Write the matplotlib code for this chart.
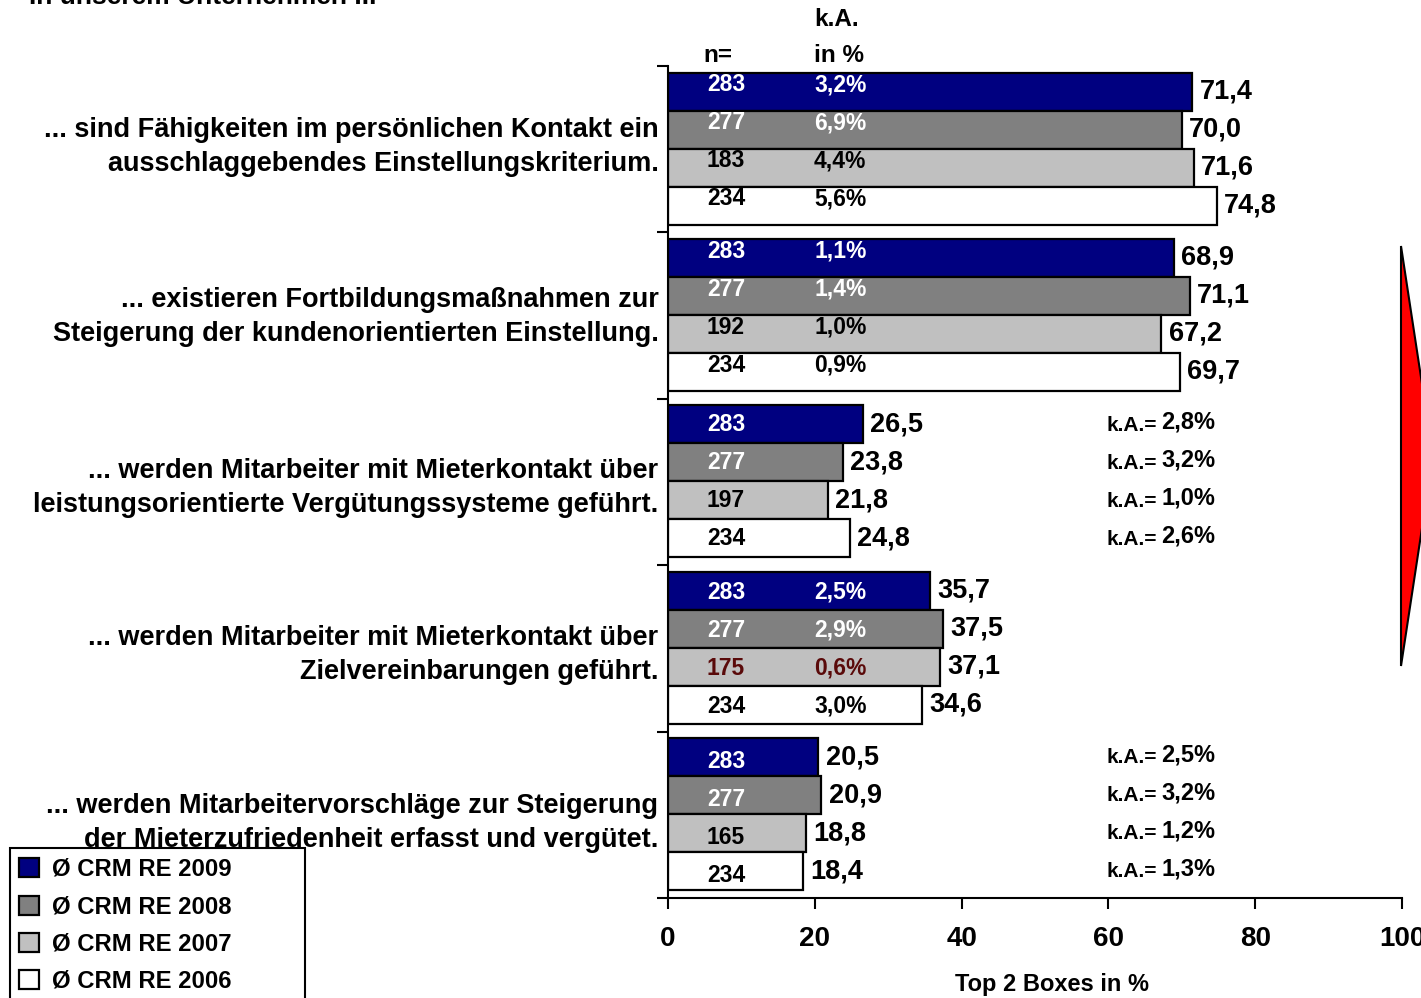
import matplotlib
matplotlib.use("Agg")
import matplotlib.pyplot as plt
from matplotlib.patches import Polygon, Rectangle

plt.rcParams['font.family'] = ['Liberation Sans', 'DejaVu Sans']
plt.rcParams['font.weight'] = 'bold'

# data
statements = [
    "... sind Fähigkeiten im persönlichen Kontakt ein\nausschlaggebendes Einstellungskriterium.",
    "... existieren Fortbildungsmaßnahmen zur\nSteigerung der kundenorientierten Einstellung.",
    "... werden Mitarbeiter mit Mieterkontakt über\nleistungsorientierte Vergütungssysteme geführt.",
    "... werden Mitarbeiter mit Mieterkontakt über\nZielvereinbarungen geführt.",
    "... werden Mitarbeitervorschläge zur Steigerung\nder Mieterzufriedenheit erfasst und vergütet.",
]
series = ["Ø CRM RE 2009", "Ø CRM RE 2008", "Ø CRM RE 2007", "Ø CRM RE 2006"]
v2009 = [71.4, 68.9, 26.5, 35.7, 20.5]
v2008 = [70.0, 71.1, 23.8, 37.5, 20.9]
v2007 = [71.6, 67.2, 21.8, 37.1, 18.8]
v2006 = [74.8, 69.7, 24.8, 34.6, 18.4]
n2009 = [283, 283, 283, 283, 283]
n2008 = [277, 277, 277, 277, 277]
n2007 = [183, 192, 197, 175, 165]
n2006 = [234, 234, 234, 234, 234]
ka2009 = [3.2, 1.1, 2.8, 2.5, 2.5]
ka2008 = [6.9, 1.4, 3.2, 2.9, 3.2]
ka2007 = [4.4, 1.0, 1.0, 0.6, 1.2]
ka2006 = [5.6, 0.9, 2.6, 3.0, 1.3]
ka_inside = [True, True, False, True, False]
xticks = [0, 20, 40, 60, 80, 100]

values = [v2009, v2008, v2007, v2006]
ns = [n2009, n2008, n2007, n2006]
kas = [ka2009, ka2008, ka2007, ka2006]

colors = ['#000080', '#808080', '#C0C0C0', '#FFFFFF']
txt_colors = ['white', 'white', 'black', 'black']
# small vertical nudges (layout only)
inner_dy = [-0.04, -0.04, 0.0, 0.01, 0.025]
label_dy = [-0.015, 0.01, 0.035, 0.04, 0.05]


def de(v, fmt="{:.1f}"):
    return fmt.format(v).replace('.', ',')


fig = plt.figure(figsize=(14.21, 9.98), dpi=100)
W, H = 1421, 998
ax = fig.add_axes([668 / W, 1 - 898 / H, (1402 - 668) / W, (898 - 66) / H])

bar_h = 38 / 166.4
top_gap = 6.5 / 166.4
ax.set_xlim(0, 100)
ax.set_ylim(len(statements), 0)

handles = []
for s in range(4):
    ys = [g + top_gap + bar_h * (s + 0.5) for g in range(len(statements))]
    b = ax.barh(ys, values[s], height=bar_h, color=colors[s], edgecolor='black',
                linewidth=1.6, label=series[s])
    handles.append(b)
    for g, y in enumerate(ys):
        ax.text(values[s][g] + 1.0, y, de(values[s][g]), ha='left', va='center',
                fontsize=19.5, fontweight='bold', color='black')
        c = txt_colors[s]
        if g == 3 and s == 2:
            c = '#5a0a0a'
        dy = inner_dy[g]
        ax.text(5.3, y + dy, str(ns[s][g]), ha='left', va='center',
                fontsize=16.5, fontweight='bold', color=c)
        if ka_inside[g]:
            ax.text(19.9, y + dy, de(kas[s][g]) + '%', ha='left', va='center',
                    fontsize=16.5, fontweight='bold', color=c)
        else:
            ax.text(59.7, y + 0.005, 'k.A.=', ha='left', va='center', fontsize=15,
                    fontweight='bold')
            ax.text(67.2, y - 0.015, de(kas[s][g]) + '%', ha='left', va='center',
                    fontsize=17, fontweight='bold')

# statements to the left
for g, label in enumerate(statements):
    ax.text(-1.3, g + 0.5 + label_dy[g], label, ha='right', va='center',
            fontsize=19.5, fontweight='bold', linespacing=1.4)

# header
ax.text(4.8, -0.066, 'n=', ha='left', va='center', fontsize=17.5, fontweight='bold')
ax.text(19.9, -0.066, 'in %', ha='left', va='center', fontsize=17.5, fontweight='bold')
ax.text(19.9, -0.282, 'k.A.', ha='left', va='center', fontsize=17.5, fontweight='bold')

# axes styling
for sp in ['top', 'right']:
    ax.spines[sp].set_visible(False)
ax.spines['left'].set_linewidth(1.5)
ax.spines['bottom'].set_linewidth(1.5)
ax.set_yticks(range(len(statements) + 1))
ax.set_yticklabels([])
ax.tick_params(axis='y', direction='out', length=8, width=1.5)
ax.set_xticks(xticks)
ax.set_xticklabels([str(t) for t in xticks])
ax.tick_params(axis='x', direction='out', length=8, width=1.5, labelsize=20,
               pad=12)
for lab in ax.get_xticklabels():
    lab.set_fontweight('bold')
ax.set_xlabel('Top 2 Boxes in %', fontsize=17, fontweight='bold')
ax.xaxis.set_label_coords(0.523, -0.09)

# legend (frame drawn separately, it runs off the bottom edge)
leg = fig.legend(handles=handles, loc='upper left',
                 bbox_to_anchor=(19 / W, 1 - 858 / H),
                 frameon=False, prop={'size': 17.2, 'weight': 'bold'},
                 handlelength=0.84, handleheight=0.84, labelspacing=0.6,
                 borderpad=0, handletextpad=0.55, borderaxespad=0)
fig.patches.append(Rectangle((10 / W, -0.02), 295 / W, 1 - 848 / H + 0.02,
                             transform=fig.transFigure, facecolor='none',
                             edgecolor='black', linewidth=1.5))

# red arrow on the right, partly outside
tri = Polygon([(1401 / W, 1 - 246 / H), (1433 / W, 1 - 456 / H), (1401 / W, 1 - 666 / H)],
              closed=True, facecolor='red', edgecolor='black', linewidth=1.5,
              transform=fig.transFigure, clip_on=False)
fig.patches.append(tri)

# cut-off title line at the top
fig.text(29 / W, 1 - 4 / H, 'In unserem Unternehmen ...', ha='left', va='baseline',
         fontsize=19, fontweight='bold')

fig.savefig('out.png', dpi=100)
